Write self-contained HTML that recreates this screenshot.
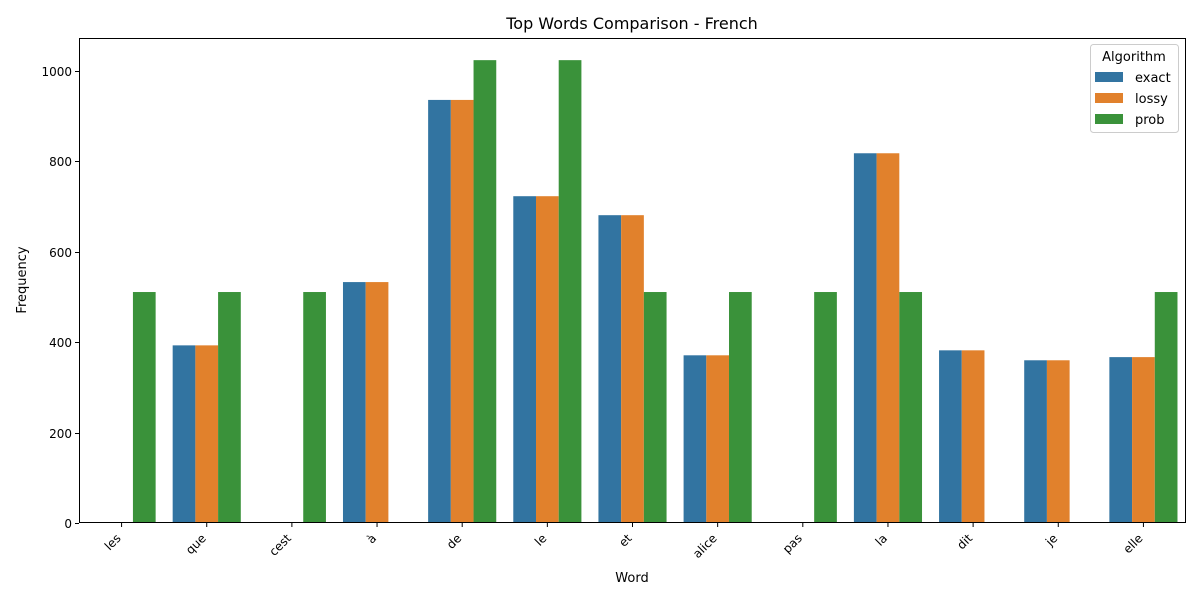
<!DOCTYPE html>
<html><head><meta charset="utf-8"><style>
body{margin:0;background:#fff;font-family:"Liberation Sans","DejaVu Sans",sans-serif;}
svg text{font-family:"DejaVu Sans","Liberation Sans",sans-serif;}
</style></head><body>
<svg id="chart" width="1200" height="600" viewBox="0 0 1200 600">
<text x="632" y="29" font-size="16" text-anchor="middle" fill="#000">Top Words Comparison - French</text>
<g id="grid"></g>
<g id="bars"></g>
<g id="axes"></g>
<text x="632" y="582" font-size="13" text-anchor="middle">Word</text>
<text x="26" y="280" font-size="13" text-anchor="middle" transform="rotate(-90 26 280)">Frequency</text>
<g id="legend">
<rect x="1090.5" y="44.5" width="88" height="88" rx="3" fill="#fff" fill-opacity="0.8" stroke="#ccc"/>
<text x="1134" y="61" font-size="13" text-anchor="middle">Algorithm</text>
</g>
</svg>
<script>
const categories=["les","que","cest","à","de","le","et","alice","pas","la","dit","je","elle"];
const exactVals=[null,393,null,533,936,723,681,371,null,818,382,360,367];
const lossyVals=[null,393,null,533,936,723,681,371,null,818,382,360,367];
const probVals=[511,511,511,null,1024,1024,511,511,511,511,null,null,511];
const seriesNames=["exact","lossy","prob"];
const colors=["#3274a1","#e1812c","#3a923a"];
const yTicks=[0,200,400,600,800,1000];
const NS="http://www.w3.org/2000/svg";
const L=79,R=1186,T=38,B=523,yMax=1073;
const y=v=>B-(v/yMax)*(B-T);
const bandW=(R-L)/categories.length;
const x=i=>L+bandW*i;
function mk(tag,attrs,parent){const e=document.createElementNS(NS,tag);for(const k in attrs)e.setAttribute(k,attrs[k]);parent.appendChild(e);return e;}
const bars=document.getElementById('bars'),axes=document.getElementById('axes'),leg=document.getElementById('legend');
const all=[exactVals,lossyVals,probVals];
const bw=bandW*0.8/3;
all.forEach((vals,s)=>{vals.forEach((v,i)=>{if(v==null)return;
const r=mk('rect',{x:x(i)+bandW*0.1+s*bw,y:y(v),width:bw,height:B-y(v),fill:colors[s]},bars);


});});
mk('rect',{x:L+0.5,y:T+0.5,width:R-L-1,height:B-T-1,fill:'none',stroke:'#000','stroke-width':1},axes);
yTicks.forEach(t=>{const yy=Math.round(y(t))+0.5;
mk('line',{x1:L-4,x2:L,y1:yy,y2:yy,stroke:'#000'},axes);
const tx=mk('text',{x:L-7,y:yy+4.5,'font-size':12,'text-anchor':'end'},axes);tx.textContent=t;


});
categories.forEach((c,i)=>{const cx=x(i)+bandW/2;
mk('line',{x1:cx,x2:cx,y1:B,y2:B+4,stroke:'#000'},axes);
const tx=mk('text',{x:cx,y:B+16,'font-size':12,'text-anchor':'end',transform:`rotate(-45 ${cx} ${B+16})`},axes);
tx.textContent=c;


});
seriesNames.forEach((n,s)=>{const yy=72+s*21;
const r=mk('rect',{x:1095,y:yy,width:28,height:10,fill:colors[s]},leg);


const t=mk('text',{x:1135,y:yy+10,'font-size':13},leg);t.textContent=n;


});
</script>
</body></html>
